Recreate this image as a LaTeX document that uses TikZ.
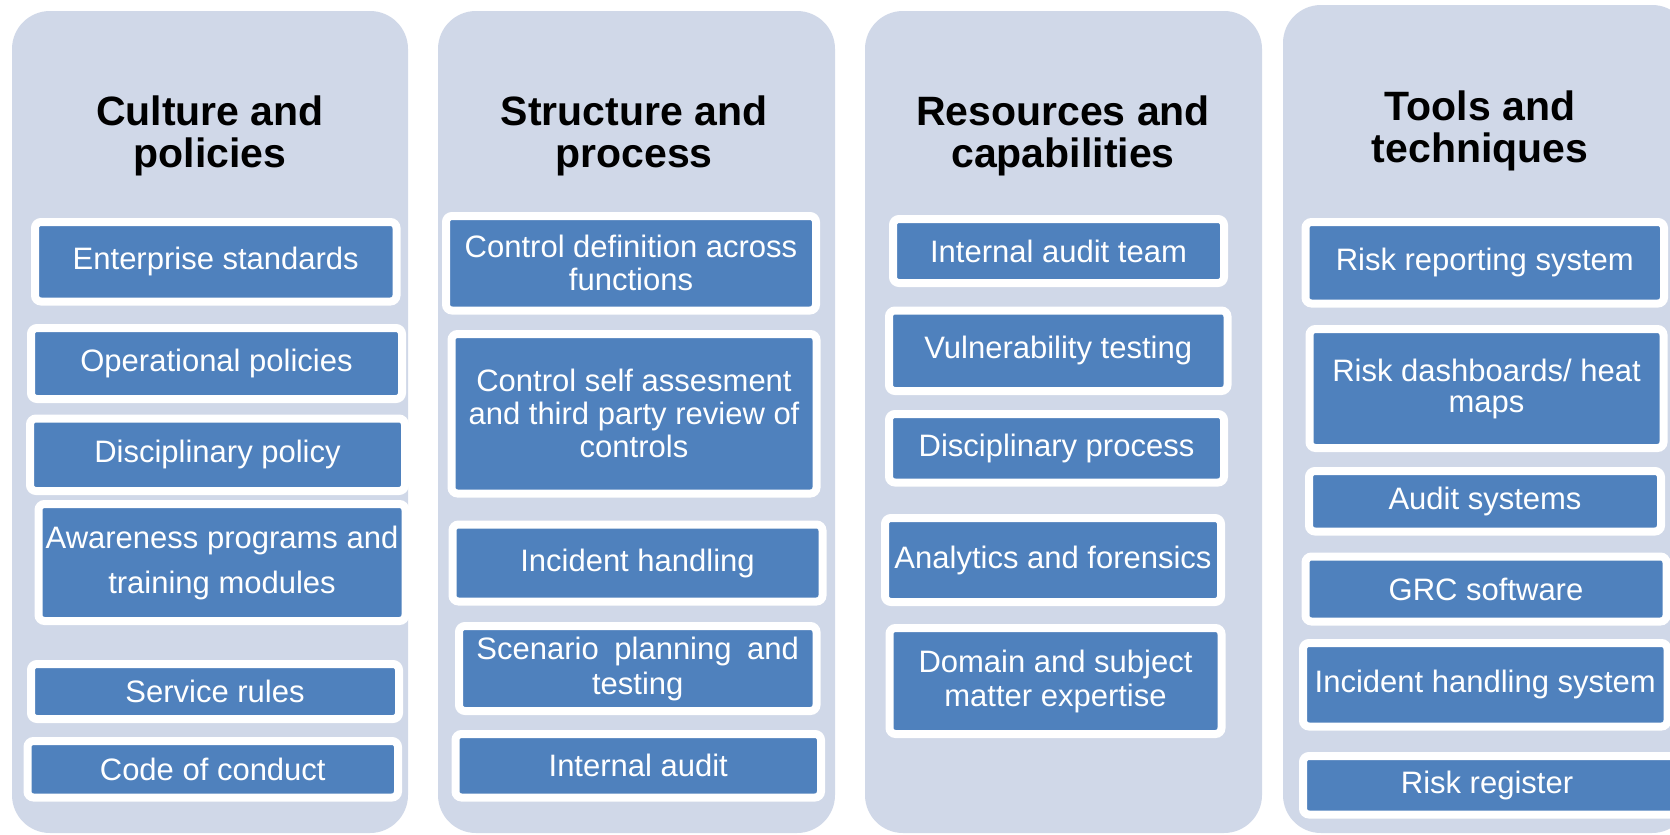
\documentclass[tikz,border=0pt]{standalone}
\usepackage{fontspec}
\setmainfont{Liberation Sans}
\definecolor{panelgray}{HTML}{D0D8E8}
\definecolor{itemblue}{HTML}{4F81BD}
\begin{document}
\begin{tikzpicture}[x=1pt,y=-1pt,
  panel/.style={fill=panelgray, draw=none, rounded corners=38pt, inner sep=0pt},
  title/.style={font=\fontsize{41}{42}\selectfont\bfseries, align=center, text=black, inner sep=0pt},
  item/.style={fill=itemblue, draw=white, line width=8pt, rounded corners=6pt, text=white,
    align=center, inner sep=0pt, font=\fontsize{31}{33}\selectfont}]
\useasboundingbox[fill=white] (0,0) rectangle (1670,835);

% panels
\node[panel, minimum width=396pt, minimum height=822pt] (p1) at (210,422) {};
\node[panel, minimum width=397pt, minimum height=822pt] (p2) at (636.5,422) {};
\node[panel, minimum width=397pt, minimum height=822pt] (p3) at (1063.5,422) {};
\node[panel, minimum width=407pt, minimum height=828pt] (p4) at (1486.5,419) {};

% titles
\node[title] (t1) at (210,136) {Culture and\\policies};
\node[title] (t2) at (634,136) {Structure and\\process};
\node[title] (t3) at (1063,136) {Resources and\\capabilities};
\node[title] (t4) at (1480,131) {Tools and\\techniques};

% column 1
\node[item, minimum width=361.5pt, minimum height=79.5pt] (a1) at (215.75,261.75) {Enterprise standards};
\node[item, minimum width=371pt, minimum height=71pt] (a2) at (216.5,363.5) {Operational policies};
\node[item, minimum width=375pt, minimum height=72.5pt] (a3) at (217.5,454.75) {Disciplinary policy};
\node[item, minimum width=367pt, minimum height=117pt, font=\fontsize{31}{45}\selectfont] (a4) at (222,562.5) {Awareness programs and\\training modules};
\node[item, minimum width=368pt, minimum height=55pt] (a5) at (215,691.5) {Service rules};
\node[item, minimum width=370.5pt, minimum height=56.5pt] (a6) at (212.75,769.25) {Code of conduct};

% column 2
\node[item, minimum width=370pt, minimum height=94.5pt] (b1) at (631,263.25) {Control definition across\\functions};
\node[item, minimum width=365pt, minimum height=159.5pt] (b2) at (634,413.75) {Control self assesment\\and third party review of\\controls};
\node[item, minimum width=370pt, minimum height=77pt] (b3) at (637.5,563) {Incident handling};
\node[item, minimum width=357.5pt, minimum height=85pt, font=\fontsize{31}{35}\selectfont] (b4) at (637.75,668.5) {Scenario\hspace{7pt} planning\hspace{7pt} and\\testing};
\node[item, minimum width=365.5pt, minimum height=63.5pt] (b5) at (638.25,765.75) {Internal audit};

% column 3
\node[item, minimum width=331pt, minimum height=64pt] (c1) at (1058.5,251) {Internal audit team};
\node[item, minimum width=338.5pt, minimum height=80.5pt] (c2) at (1058.25,350.75) {Vulnerability testing};
\node[item, minimum width=335pt, minimum height=68.5pt] (c3) at (1056.5,448.25) {Disciplinary process};
\node[item, minimum width=336pt, minimum height=84pt] (c4) at (1053,560) {Analytics and forensics};
\node[item, minimum width=332pt, minimum height=106pt, font=\fontsize{31}{34}\selectfont] (c5) at (1055.5,681) {Domain and subject\\matter expertise};

% column 4
\node[item, minimum width=358.5pt, minimum height=81.5pt] (d1) at (1484.75,262.75) {Risk reporting system};
\node[item, minimum width=354pt, minimum height=119pt, font=\fontsize{31}{31}\selectfont] (d2) at (1486.5,388.5) {Risk dashboards/ heat\\maps};
\node[item, minimum width=352pt, minimum height=60.5pt] (d3) at (1485,501.25) {Audit systems};
\node[item, minimum width=361pt, minimum height=65pt] (d4) at (1486,589) {GRC software};
\node[item, minimum width=364.5pt, minimum height=83.5pt] (d5) at (1485.25,684.75) {Incident handling system};
\node[item, minimum width=387pt, minimum height=58.5pt] (d6) at (1496.5,785.25) {Risk register\hspace*{19pt}};
\end{tikzpicture}
\end{document}
